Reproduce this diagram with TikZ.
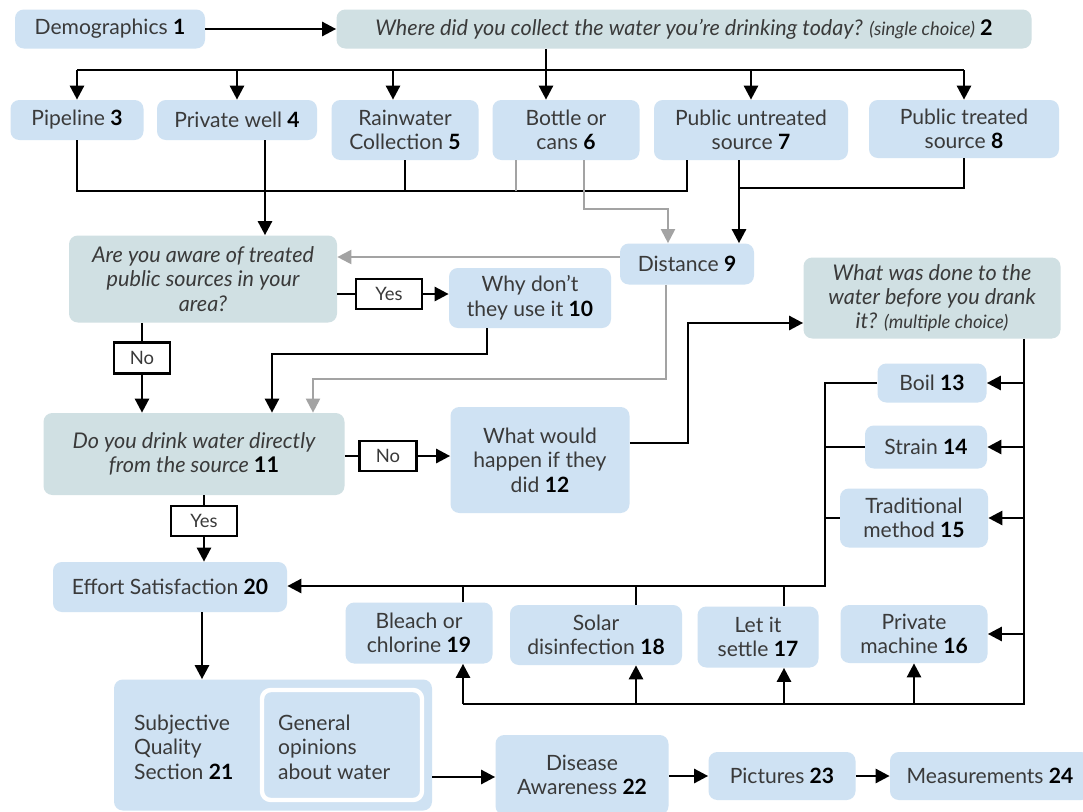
\documentclass[tikz,border=0pt]{standalone}
\usepackage{fontspec}
\setmainfont{Lato}
\usepackage{xcolor}
\usetikzlibrary{arrows.meta,calc}

\definecolor{boxblue}{HTML}{CFE2F3}
\definecolor{boxcyan}{HTML}{D0E0E3}
\definecolor{txtgray}{HTML}{3A3A3A}
\definecolor{linegray}{HTML}{A3A3A3}
\newcommand{\nb}[1]{\textcolor{black}{\textbf{\textup{#1}}}}

\begin{document}
\begin{tikzpicture}[x=0.02cm, y=-0.02cm,
    font=\fontsize{12}{14}\selectfont, text=txtgray,
    sz/.style 2 args={minimum width=#1*0.02cm, minimum height=#2*0.02cm},
    blu/.style={fill=boxblue, rounded corners=5pt, inner sep=0pt, align=center},
    qst/.style={fill=boxcyan, rounded corners=5pt, inner sep=0pt, align=center,
        font=\fontsize{12.3}{13.8}\selectfont\itshape},
    lbl/.style={draw=black, line width=1.3pt, fill=white, inner sep=0pt,
        font=\fontsize{10.5}{12}\selectfont},
    ln/.style={line width=1.5pt, black},
    arr/.style={ln, -{Triangle[length=8pt,width=8pt]}},
    gln/.style={line width=1.2pt, linegray},
    garr/.style={gln, -{Triangle[length=8pt,width=8pt]}}]
\clip (0,0) rectangle (1083,812);
\fill[white] (0,0) rectangle (1083,812);

% questions and answers
\node[blu, sz={190}{39}] (demo) at (110,29) {Demographics \nb{1}};
\node[qst, sz={695}{39}] (q2) at (684,29) {Where did you collect the water you're drinking today? {\fontsize{10.5}{12}\selectfont(single choice)} \nb{2}};
\node[blu, sz={133}{40}] (pipe) at (77,120) {Pipeline \nb{3}};
\node[blu, sz={160}{40}] (well) at (237,120) {Private well \nb{4}};
\node[blu, sz={147}{60}] (rain) at (405,130) {Rainwater\\Collection \nb{5}};
\node[blu, sz={147}{60}] (bottle) at (566,130) {Bottle or\\cans \nb{6}};
\node[blu, sz={194}{60}] (untr) at (751,130) {Public untreated\\source \nb{7}};
\node[blu, sz={190}{58}] (treat) at (964,129) {Public treated\\source \nb{8}};
\node[blu, sz={134}{41}] (dist) at (687,264) {Distance \nb{9}};
\node[qst, sz={268}{87}] (aware) at (203,279) {Are you aware of treated\\public sources in your\\area?};
\node[blu, sz={162}{60}] (why) at (530,298) {Why don't\\they use it \nb{10}};
\node[qst, sz={301}{82}] (q11) at (194,454) {Do you drink water directly\\from the source \nb{11}};
\node[blu, sz={179}{106}] (q12) at (540,460) {What would\\happen if they\\did \nb{12}};
\node[qst, sz={257}{81}] (q13) at (932,298) {What was done to the\\water before you drank\\it? {\fontsize{10.5}{12}\selectfont(multiple choice)}};
\node[blu, sz={109}{39}] (boil) at (932,383) {Boil \nb{13}};
\node[blu, sz={122}{43}] (strain) at (926,447) {Strain \nb{14}};
\node[blu, sz={148}{59}] (trad) at (914,518) {Traditional\\method \nb{15}};
\node[blu, sz={147}{58}] (mach) at (914,634) {Private\\machine \nb{16}};
\node[blu, sz={121}{61}] (settle) at (758,637) {Let it\\settle \nb{17}};
\node[blu, sz={172}{60}] (solar) at (596,635) {Solar\\disinfection \nb{18}};
\node[blu, sz={147}{61}] (bleach) at (419,633) {Bleach or\\chlorine \nb{19}};
\node[blu, sz={234}{50}] (effort) at (170,587) {Effort Satisfaction \nb{20}};
\node[blu, sz={318}{131}] (subj) at (273,745) {};
\node[blu, sz={160}{110}, draw=white, line width=2.5pt] (gen) at (342,745) {};
\node[anchor=west, align=left] (subjtxt) at (128,747) {Subjective\\Quality\\Section \nb{21}};
\node[anchor=west, align=left] (gentxt) at (272,747) {General\\opinions\\about water};
\node[blu, sz={173}{80}] (disease) at (582,775) {Disease\\Awareness \nb{22}};
\node[blu, sz={147}{48}] (pics) at (782,776) {Pictures \nb{23}};
\node[blu, sz={200}{48}] (meas) at (990,776) {Measurements \nb{24}};

% yes / no labels
\node[lbl, sz={66}{30}] (yes1) at (389,294) {Yes};
\node[lbl, sz={56}{31}] (no1) at (142,358) {No};
\node[lbl, sz={57}{30}] (no2) at (388,456) {No};
\node[lbl, sz={66}{30}] (yes2) at (204,521) {Yes};

% junctions
\coordinate (hub) at (546,70);
\coordinate (m1) at (687,191);
\coordinate (m2) at (739,188);
\coordinate (g1) at (584,209);
\coordinate (g2) at (666,379);
\coordinate (g3) at (313,379);
\coordinate (w1) at (487,354);
\coordinate (w2) at (272,354);
\coordinate (c1) at (688,443);
\coordinate (c2) at (688,323);
\coordinate (r1) at (1024,704);
\coordinate (r2) at (463,704);
\coordinate (u18) at (636,704);
\coordinate (u17) at (784,704);
\coordinate (l1) at (825,586);

\draw[arr] (demo) -- (q2);
\draw[ln] (pipe.north |- hub) -- (treat.north |- hub);
\draw[arr] (q2.south -| hub) -- (bottle.north -| hub);
\foreach \n in {pipe, well, untr, treat}
    \draw[arr] (\n.north |- hub) -- (\n.north);
\draw[arr] ([xshift=-0.24cm]rain.north |- hub) -- ([xshift=-0.24cm]rain.north);

\draw[ln] (pipe.south) |- (m1) -- (untr.south -| m1);
\draw[ln] (rain.south) -- (rain.south |- m1);
\draw[gln] ([xshift=-1cm]bottle.south) -- ([xshift=-1cm]bottle.south |- m1);
\draw[arr] ([xshift=0.56cm]well.south) -- ([xshift=0.56cm]well.south |- aware.north);
\draw[garr] (bottle.south -| g1) -- (g1) -| ([xshift=-0.38cm]dist.north);
\draw[ln] (treat.south) |- (m2);
\draw[arr] (untr.south -| m2) -- (dist.north -| m2);

\draw[garr] ([yshift=0.14cm]dist.west) -- ([yshift=0.14cm]dist.west -| aware.east);
\draw[garr] (dist.south -| g2) -- (g2) -- (g3) -- (q11.north -| g3);

\draw[ln] (aware.east |- yes1) -- (yes1);
\draw[arr] (yes1) -- (why.west |- yes1);
\draw[ln] (aware.south -| no1) -- (no1);
\draw[arr] (no1) -- (q11.north -| no1);
\draw[arr] (why.south -| w1) -- (w1) -- (w2) -- (q11.north -| w2);

\draw[ln] (q11.east |- no2) -- (no2);
\draw[arr] (no2) -- (q12.west |- no2);
\draw[arr] (q12.east |- c1) -- (c1) -- (c2) -- (q13.west |- c2);

\draw[ln] (q13.south -| r1) -- (r1) -- (r2);
\foreach \n in {boil, strain, trad, mach}
    \draw[arr] (r1 |- \n.east) -- (\n.east);
\draw[arr] (r2) -- (bleach.south -| r2);
\draw[arr] (u18) -- (solar.south -| u18);
\draw[arr] (u17) -- (settle.south -| u17);
\draw[arr] (mach.south |- r1) -- (mach.south);

\draw[arr] (boil.west) -| (l1) -- (effort.east |- l1);
\draw[ln] (strain.west) -- (strain.west -| l1);
\draw[ln] (trad.west) -- (trad.west -| l1);
\foreach \c/\n in {r2/bleach, u18/solar, u17/settle}
    \draw[ln] (\n.north -| \c) -- (l1 -| \c);

\draw[ln] (q11.south -| yes2) -- (yes2);
\draw[arr] (yes2) -- (effort.north -| yes2);
\draw[arr] ([xshift=0.64cm]effort.south) -- ([xshift=0.64cm]effort.south |- subj.north);
\draw[arr] ([yshift=-0.64cm]subj.east) -- ([yshift=-0.64cm]subj.east -| disease.west);
\draw[arr] (disease.east |- pics) -- (pics);
\draw[arr] (pics) -- (meas);
\end{tikzpicture}
\end{document}
